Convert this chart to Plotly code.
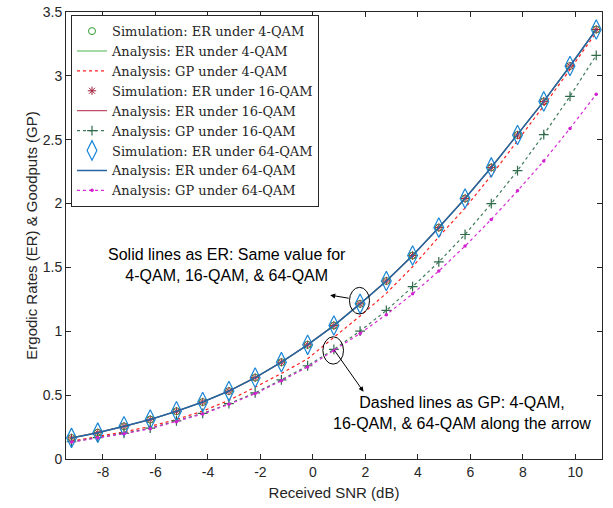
import plotly.graph_objects as go

snr = [-9.2, -8.2, -7.2, -6.2, -5.2, -4.2, -3.2, -2.2, -1.2, -0.2, 0.8,
       1.8, 2.8, 3.8, 4.8, 5.8, 6.8, 7.8, 8.8, 9.8, 10.8]
er = [0.165, 0.206, 0.256, 0.309, 0.374, 0.446, 0.532, 0.637, 0.758, 0.894, 1.045,
      1.215, 1.394, 1.593, 1.812, 2.040, 2.283, 2.537, 2.800, 3.077, 3.363]
gp_4qam = [0.140, 0.174, 0.212, 0.255, 0.310, 0.375, 0.460, 0.562, 0.670, 0.785, 0.950,
           1.120, 1.297, 1.505, 1.740, 1.965, 2.220, 2.490, 2.765, 3.050, 3.340]
gp_16qam = [0.135, 0.168, 0.201, 0.241, 0.298, 0.357, 0.433, 0.518, 0.620, 0.730, 0.858,
            1.002, 1.163, 1.349, 1.543, 1.758, 2.000, 2.258, 2.540, 2.840, 3.161]
gp_64qam = [0.133, 0.166, 0.198, 0.237, 0.292, 0.353, 0.428, 0.512, 0.613, 0.720, 0.850,
            0.983, 1.130, 1.293, 1.472, 1.667, 1.876, 2.100, 2.334, 2.588, 2.856]

x_ticks = [-8, -6, -4, -2, 0, 2, 4, 6, 8, 10]
y_ticks = [0, 0.5, 1, 1.5, 2, 2.5, 3, 3.5]

fig = go.Figure()
dash = "3px,3px"
fig.add_trace(go.Scatter(x=snr, y=er, mode="markers", name="Simulation: ER under 4-QAM",
                         marker=dict(symbol="circle-open", size=7, color="#2e9a2e", line=dict(width=1))))
fig.add_trace(go.Scatter(x=snr, y=er, mode="lines", name="Analysis: ER under 4-QAM",
                         line=dict(color="#4db34d", width=1.2)))
fig.add_trace(go.Scatter(x=snr, y=gp_4qam, mode="lines", name="Analysis: GP under 4-QAM",
                         line=dict(color="#ff2020", width=1.2, dash=dash)))
fig.add_trace(go.Scatter(x=snr, y=er, mode="markers", name="Simulation: ER under 16-QAM",
                         marker=dict(symbol="asterisk-open", size=7, color="#a2203c", line=dict(width=1, color="#a2203c"))))
fig.add_trace(go.Scatter(x=snr, y=er, mode="lines", name="Analysis: ER under 16-QAM",
                         line=dict(color="#c0506a", width=1.2)))
fig.add_trace(go.Scatter(x=snr, y=gp_16qam, mode="lines+markers", name="Analysis: GP under 16-QAM",
                         line=dict(color="#3f7a5a", width=1.2, dash=dash),
                         marker=dict(symbol="cross-thin-open", size=7, color="#2f6a4a", line=dict(width=1.2, color="#2f6a4a"))))
fig.add_trace(go.Scatter(x=snr, y=er, mode="markers", name="Simulation: ER under 64-QAM",
                         marker=dict(symbol="diamond-tall-open", size=14, color="#1a86d6", line=dict(width=1.2))))
fig.add_trace(go.Scatter(x=snr, y=er, mode="lines", name="Analysis: ER under 64-QAM",
                         line=dict(color="#2466a3", width=1.5)))
fig.add_trace(go.Scatter(x=snr, y=gp_64qam, mode="lines+markers", name="Analysis: GP under 64-QAM",
                         line=dict(color="#d82ad8", width=1.2, dash=dash),
                         marker=dict(symbol="circle", size=3.5, color="#d020d0")))

axis_common = dict(showline=True, linecolor="#262626", linewidth=1, mirror="ticks",
                   ticks="inside", ticklen=5, tickcolor="#262626", showgrid=False, zeroline=False,
                   automargin=False,
                   tickfont=dict(family="Liberation Sans, Arial, sans-serif", size=14, color="#262626"))

fig.update_xaxes(range=[-9.41, 11.02], tickvals=x_ticks, ticktext=[str(t) for t in x_ticks],
                 title=dict(text="Received SNR (dB)", standoff=8,
                            font=dict(family="Liberation Sans, Arial, sans-serif", size=15, color="#262626")),
                 **axis_common)
fig.update_yaxes(range=[0, 3.5], tickvals=y_ticks, ticktext=["0", "0.5", "1", "1.5", "2", "2.5", "3", "3.5"],
                 title=dict(text="Ergodic Rates (ER) & Goodputs (GP)", standoff=1,
                            font=dict(family="Liberation Sans, Arial, sans-serif", size=15, color="#262626")),
                 **axis_common)

# ellipses
fig.add_shape(type="circle", xref="x", yref="y", x0=1.395, x1=2.158, y0=1.135, y1=1.344,
              line=dict(color="black", width=1))
fig.add_shape(type="circle", xref="x", yref="y", x0=0.381, x1=1.167, y0=0.743, y1=0.957,
              line=dict(color="black", width=1))

# arrows
fig.add_annotation(x=0.66, y=1.283, ax=1.422, ay=1.257, xref="x", yref="y", axref="x", ayref="y",
                   text="", showarrow=True, arrowhead=2, arrowsize=1, arrowwidth=1, arrowcolor="black")
fig.add_annotation(x=1.93, y=0.527, ax=0.785, ay=0.861, xref="x", yref="y", axref="x", ayref="y",
                   text="", showarrow=True, arrowhead=2, arrowsize=1, arrowwidth=1, arrowcolor="black")

# texts
fig.add_annotation(x=-3.29, y=1.518, xref="x", yref="y", showarrow=False,
                   text="Solid lines as ER: Same value for<br>4-QAM, 16-QAM, & 64-QAM",
                   font=dict(family="Liberation Sans, Arial, sans-serif", size=16, color="black"), align="center")
fig.add_annotation(x=5.69, y=0.364, xref="x", yref="y", showarrow=False,
                   text="Dashed lines as GP: 4-QAM,<br>16-QAM, & 64-QAM along the arrow",
                   font=dict(family="Liberation Sans, Arial, sans-serif", size=16, color="black"), align="center")

fig.update_layout(
    width=613, height=508,
    margin=dict(l=66, r=11, t=12, b=49),
    paper_bgcolor="white", plot_bgcolor="white",
    legend=dict(x=0.0093, y=0.993, xanchor="left", yanchor="top",
                bgcolor="white", bordercolor="#262626", borderwidth=1,
                font=dict(family="DejaVu Serif, serif", size=13, color="#262626"),
                tracegroupgap=0, itemwidth=30),
    showlegend=True,
)

fig.write_html("out.html", config={"displayModeBar": False},
               post_script="document.body.style.margin='0';document.body.style.padding='0';document.body.style.overflow='hidden';")
